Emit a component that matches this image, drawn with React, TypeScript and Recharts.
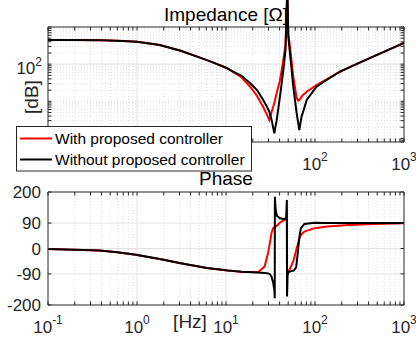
import React from "react";
import { LineChart, Line, XAxis, YAxis, CartesianGrid } from "recharts";

// impedance magnitude [Hz] -> [Ω]
const magFreq = [0.1, 0.2, 0.4, 0.7, 1, 1.8, 3.1, 5.1, 7, 10, 12, 14.8, 18.6, 22.3, 26.2, 28.6, 30.7, 32.6, 34.9, 37.1, 40.4, 44.1, 46.6, 48.9, 50.1, 52.3, 57, 62.2, 64.9, 66.6, 70.8, 72.8, 80.7, 104, 135, 191, 300, 470, 1000];
const magWithout = [447, 446, 438, 422, 403, 327, 230, 150, 113, 80, 63, 49.4, 31, 20.1, 10.8, 7.4, 5.2, 3.1, 1.37, 3.1, 13.3, 69.5, 240, 12000, 548, 200, 24.7, 4.8, 2.5, 1.68, 4, 4.8, 10.8, 24.7, 37.4, 62.5, 103, 166, 371];
const magWith = [447, 446, 438, 422, 403, 327, 230, 150, 113, 80, 62, 45, 25, 13.9, 7, 4.5, 3.1, 5.2, 9, 16.7, 37, 129, 330, 10000, 676, 294, 45.8, 12.2, 10.4, 10.8, 13.3, 14.5, 18.1, 27.4, 39, 62.5, 103, 166, 371];

// phase [deg]
const phaseFreq = [0.1, 0.2, 0.38, 0.6, 0.97, 1.8, 3.1, 6.1, 10.5, 14.9, 22.9, 27.1, 29.7, 31.1, 32.4, 33.9, 35.0, 35.3, 35.4, 36.2, 37.4, 40.4, 46.2, 47.5, 48.3, 48.5, 49.2, 50.5, 54.1, 57.8, 61.5, 64, 66.8, 69.5, 76, 99, 138, 236, 470, 1000];
const phaseWithout = [-2, -4.5, -7, -13, -22, -37, -52, -69, -78, -82.5, -85, -87, -88, -91, -99, -121, -150, -176, 183, 136, 115, 107, 104, 112, 172, -170, -95, -83, -80, -78, -66, -16.5, 42, 72, 87, 91, 90.5, 90, 90, 90];
const phaseWith = [-2, -4.5, -7, -13, -22, -37, -52, -69, -78, -82.5, -84, -64, -16, 19, 54, 72, 75, 75.5, 76, 78, 81, 92, 103, 105, 108, -80, -81, -81, -61, -40, -5, 14, 36, 48, 60, 72, 77.5, 83, 87, 89.5];

// the reference legend hides 10^-1..10^1 under the top plot
const magXLabels = [100, 1000];
const phaseXLabels = [0.1, 1, 10, 100, 1000];
const magLabels = [100];
const phaseLabels = [-200, -90, 0, 90, 200];
const phaseGrid = [-90, 0, 90];

const magData = magFreq.map((f, i) => ({ f, with: magWith[i], without: magWithout[i] }));
const phaseData = phaseFreq.map((f, i) => ({ f, with: phaseWith[i], without: phaseWithout[i] }));

const FONT = "'Liberation Sans', Arial, Helvetica, sans-serif";
const INK = "#262626";
const RED = "#ff0000";
const GRID_MAJOR = "#e2e2e2";
const GRID_MINOR = "#e0e0e0";
const X_DOMAIN = [0.1, 1000];
const MAG_DOMAIN = [0.8, 1000];
// top plot is 115px tall, the peak is drawn 27px above it
const MAG_OVER_TOP = 1000 * Math.pow(1000 / 0.8, 27 / 115);

function decades(lo: number, hi: number) {
  const out: number[] = [];
  for (let e = lo; e < hi; e++) for (let m = 1; m < 10; m++) out.push(m * Math.pow(10, e));
  out.push(Math.pow(10, hi));
  return out;
}
const isDecade = (v: number) => Math.abs(Math.log10(v) - Math.round(Math.log10(v))) < 1e-9;

const xTicks = decades(-1, 3);
const magTicks = decades(-1, 3).filter((v) => v >= 0.8 - 1e-9 && v <= 1000);
const xMajorGrid = [1, 10, 100];
const xMinorGrid = xTicks.filter((v) => !isDecade(v));
const magMajorGrid = [100];
const magMinorGrid = magTicks.filter((v) => v !== 100 && v > 0.81 && v < 1000);

function EdgeTick(props: any) {
  const { x, y, payload, side, labels = [], log = false } = props;
  const v = payload.value;
  const L = 3.5;
  const d = side === "bottom" ? [0, -L] : side === "top" ? [0, L] : side === "left" ? [L, 0] : [-L, 0];
  const hit = labels.some((l: number) => Math.abs(l - v) < 1e-9 * Math.max(1, Math.abs(l)));
  let label = null;
  if (hit) {
    const exp = log ? Math.round(Math.log10(v)) : 0;
    if (side === "bottom") {
      label = (
        <text x={x} y={y + 27.5} textAnchor="middle" fontSize={17} fill={INK} fontFamily={FONT}>
          10<tspan dy={-8.5} fontSize={12}>{exp}</tspan>
        </text>
      );
    } else if (side === "left") {
      label = log ? (
        <text x={x - 6} y={y + 10} textAnchor="end" fontSize={17} fill={INK} fontFamily={FONT}>
          10<tspan dy={-8.5} fontSize={12}>{exp}</tspan>
        </text>
      ) : (
        <text x={x - 7} y={y} dy="0.36em" textAnchor="end" fontSize={17} fill={INK} fontFamily={FONT}>
          {v}
        </text>
      );
    }
  }
  return (
    <g>
      <line x1={x} y1={y} x2={x + d[0]} y2={y + d[1]} stroke={INK} strokeWidth={1} />
      {label}
    </g>
  );
}

const axisBase = {
  type: "number" as const,
  allowDataOverflow: true,
  interval: 0,
  tickLine: false,
  tickSize: 0,
  tickMargin: 0,
  axisLine: { stroke: INK, strokeWidth: 1 },
};
const xAxisBase = { ...axisBase, dataKey: "f", scale: "log" as const, domain: X_DOMAIN, ticks: xTicks };
const magAxisBase = { ...axisBase, scale: "log" as const, domain: MAG_DOMAIN, ticks: magTicks };
const phaseAxisBase = { ...axisBase, domain: [-200, 200], ticks: phaseLabels };

export default function App() {
  return (
    <div style={{ position: "absolute", left: 0, top: 0, width: 416, height: 341, background: "#fff", fontFamily: FONT }}>
      {/* impedance axes and grid */}
      <div style={{ position: "absolute", left: 0, top: 0 }}>
        <LineChart width={416} height={180} data={magData} margin={{ top: 0, right: 0, bottom: 0, left: 0 }}>
          <CartesianGrid verticalValues={xMinorGrid} horizontalValues={magMinorGrid} stroke={GRID_MINOR} strokeDasharray="1 2" />
          <CartesianGrid verticalValues={xMajorGrid} horizontalValues={magMajorGrid} stroke={GRID_MAJOR} />
          <XAxis {...xAxisBase} height={38} tick={<EdgeTick side="bottom" labels={magXLabels} log />} />
          <XAxis {...xAxisBase} xAxisId="top" orientation="top" height={27} tick={<EdgeTick side="top" />} />
          <YAxis {...magAxisBase} width={48} tick={<EdgeTick side="left" labels={magLabels} log />} />
          <YAxis {...magAxisBase} yAxisId="right" orientation="right" width={12} tick={<EdgeTick side="right" />} />
          <Line dataKey="with" stroke={RED} strokeOpacity={0} dot={false} isAnimationActive={false} />
          <Line dataKey="without" stroke="#000" strokeOpacity={0} dot={false} isAnimationActive={false} />
        </LineChart>
      </div>

      {/* phase */}
      <div style={{ position: "absolute", left: 0, top: 180 }}>
        <LineChart width={416} height={161} data={phaseData} margin={{ top: 0, right: 0, bottom: 0, left: 0 }}>
          <CartesianGrid verticalValues={xMinorGrid} horizontal={false} stroke={GRID_MINOR} strokeDasharray="1 2" />
          <CartesianGrid verticalValues={xMajorGrid} horizontalValues={phaseGrid} stroke={GRID_MAJOR} />
          <XAxis {...xAxisBase} height={36} tick={<EdgeTick side="bottom" labels={phaseXLabels} log />} />
          <XAxis {...xAxisBase} xAxisId="top" orientation="top" height={12} tick={<EdgeTick side="top" />} />
          <YAxis {...phaseAxisBase} width={48} tick={<EdgeTick side="left" labels={phaseLabels} />} />
          <YAxis {...phaseAxisBase} yAxisId="right" orientation="right" width={12} tick={<EdgeTick side="right" />} />
          <Line dataKey="with" stroke={RED} strokeWidth={2} dot={false} isAnimationActive={false} />
          <Line dataKey="without" stroke="#000" strokeWidth={2} dot={false} isAnimationActive={false} />
        </LineChart>
      </div>

      {/* impedance curves, allowed to run past the top of the axes like the reference */}
      <div style={{ position: "absolute", left: 0, top: 0, pointerEvents: "none" }}>
        <LineChart width={416} height={142} data={magData} margin={{ top: 0, right: 12, bottom: 0, left: 48 }}>
          <XAxis hide type="number" dataKey="f" scale="log" domain={X_DOMAIN} allowDataOverflow />
          <YAxis hide type="number" scale="log" domain={[0.8, MAG_OVER_TOP]} allowDataOverflow />
          <Line dataKey="with" stroke={RED} strokeWidth={2} dot={false} isAnimationActive={false} />
          <Line dataKey="without" stroke="#000" strokeWidth={2} dot={false} isAnimationActive={false} />
        </LineChart>
      </div>

      {/* titles, labels, legend */}
      <svg width={416} height={341} style={{ position: "absolute", left: 0, top: 0, pointerEvents: "none" }} fontFamily={FONT}>
        <text x={226} y={21} textAnchor="middle" fontSize={19} fill="#000">Impedance [Ω]</text>
        <text x={226} y={185} textAnchor="middle" fontSize={19} fill="#000">Phase</text>
        <text transform="translate(38,97) rotate(-90)" textAnchor="middle" fontSize={19} fill={INK}>[dB]</text>
        <text x={190} y={328} textAnchor="middle" fontSize={19} fill={INK}>[Hz]</text>

        <rect x={16.5} y={126.5} width={235} height={44.5} fill="#fff" stroke={INK} strokeWidth={1} />
        <line x1={20} y1={138.5} x2={52} y2={138.5} stroke={RED} strokeWidth={2} />
        <text x={55} y={144} fontSize={15.5} fill="#000">With proposed controller</text>
        <line x1={20} y1={159.5} x2={52} y2={159.5} stroke="#000" strokeWidth={2} />
        <text x={55} y={165} fontSize={15.5} fill="#000">Without proposed controller</text>
      </svg>
    </div>
  );
}
